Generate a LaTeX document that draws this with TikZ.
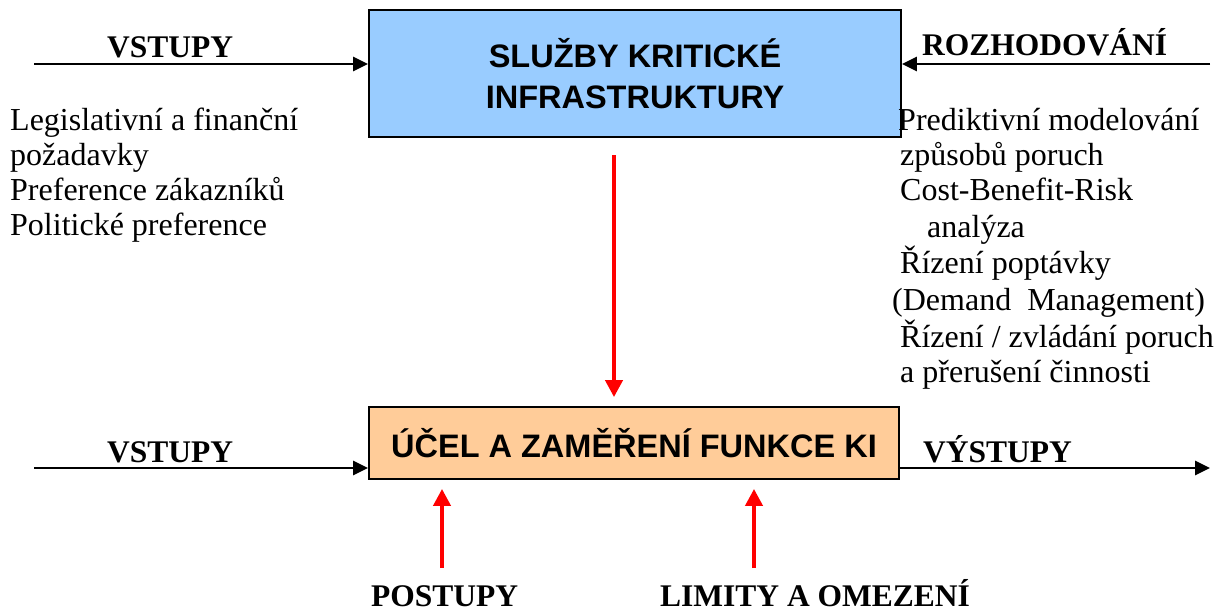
\documentclass[tikz,border=0pt]{standalone}
\usepackage{fontspec}
\setmainfont{Liberation Serif}
\newfontfamily\boxfont{Liberation Sans}
\usetikzlibrary{arrows.meta}
\definecolor{skyfill}{HTML}{99CCFF}
\definecolor{peachfill}{HTML}{FFCC99}
\begin{document}
\begin{tikzpicture}[x=1pt,y=-1pt,
  blk/.style={draw=black, line width=1.8pt, inner sep=0pt, align=center,
    font=\boxfont\bfseries\fontsize{32.5}{41}\selectfont},
  head/.style={font=\bfseries\fontsize{31.5}{31.5}\selectfont, anchor=base west, inner sep=0pt},
  item/.style={font=\fontsize{32}{35}\selectfont, anchor=base west, inner sep=0pt},
  flow/.style={line width=2.6pt, -{Triangle[length=15pt,width=14pt]}},
  pull/.style={red, line width=4pt, -{Triangle[length=17pt,width=17pt]}, shorten >=9pt}]
\useasboundingbox (0,0) rectangle (1228,611);

% process boxes
\node[blk, fill=skyfill, minimum width=532pt, minimum height=127pt] (top) at (635,73.5)
  {SLUŽBY KRITICKÉ\\INFRASTRUKTURY};
\node[blk, fill=peachfill, minimum width=530pt, minimum height=72pt] (bot) at (634,443)
  {ÚČEL A ZAMĚŘENÍ FUNKCE KI};

% free ends of the connectors
\coordinate (inA) at (34,64);
\coordinate (decA) at (1210,64);
\coordinate (srcR) at (614,155);
\coordinate (inB) at (34,468);
\coordinate (outB) at (1210,468);
\coordinate (srcP) at (442,568);
\coordinate (srcL) at (754,568);

% connectors
\draw[flow] (inA) -- (inA -| top.west);
\draw[flow] (decA) -- (decA -| top.east);
\draw[pull] (srcR) -- (srcR |- bot.north);
\draw[flow] (inB) -- (inB -| bot.west);
\draw[flow] (inB -| bot.east) -- (outB);
\draw[pull] (srcP) -- (srcP |- bot.south);
\draw[pull] (srcL) -- (srcL |- bot.south);

% headings
\node[head] (hIn) at (107,57) {VSTUPY};
\node[head] (hDec) at (922,55) {ROZHODOVÁNÍ};
\node[head] (hIn2) at (107,462) {VSTUPY};
\node[head] (hOut) at (923,462) {VÝSTUPY};
\node[head] (hProc) at (371,606) {POSTUPY};
\node[head] (hLim) at (660,606) {LIMITY A OMEZENÍ};

% input list
\node[item] (l1) at (10,130) {Legislativní a finanční};
\node[item] (l2) at (10,165) {požadavky};
\node[item] (l3) at (10,200) {Preference zákazníků};
\node[item] (l4) at (10,235) {Politické preference};

% decision list
\node[item] (r1) at (898,130) {Prediktivní modelování};
\node[item] (r2) at (900,165) {způsobů poruch};
\node[item] (r3) at (900,200) {Cost-Benefit-Risk};
\node[item] (r4) at (927,237) {analýza};
\node[item] (r5) at (900,273) {Řízení poptávky};
\node[item] (r6) at (892,310) {(Demand\ \ Management)};
\node[item] (r7) at (900,347) {Řízení / zvládání poruch};
\node[item] (r8) at (900,382) {a přerušení činnosti};
\end{tikzpicture}
\end{document}
